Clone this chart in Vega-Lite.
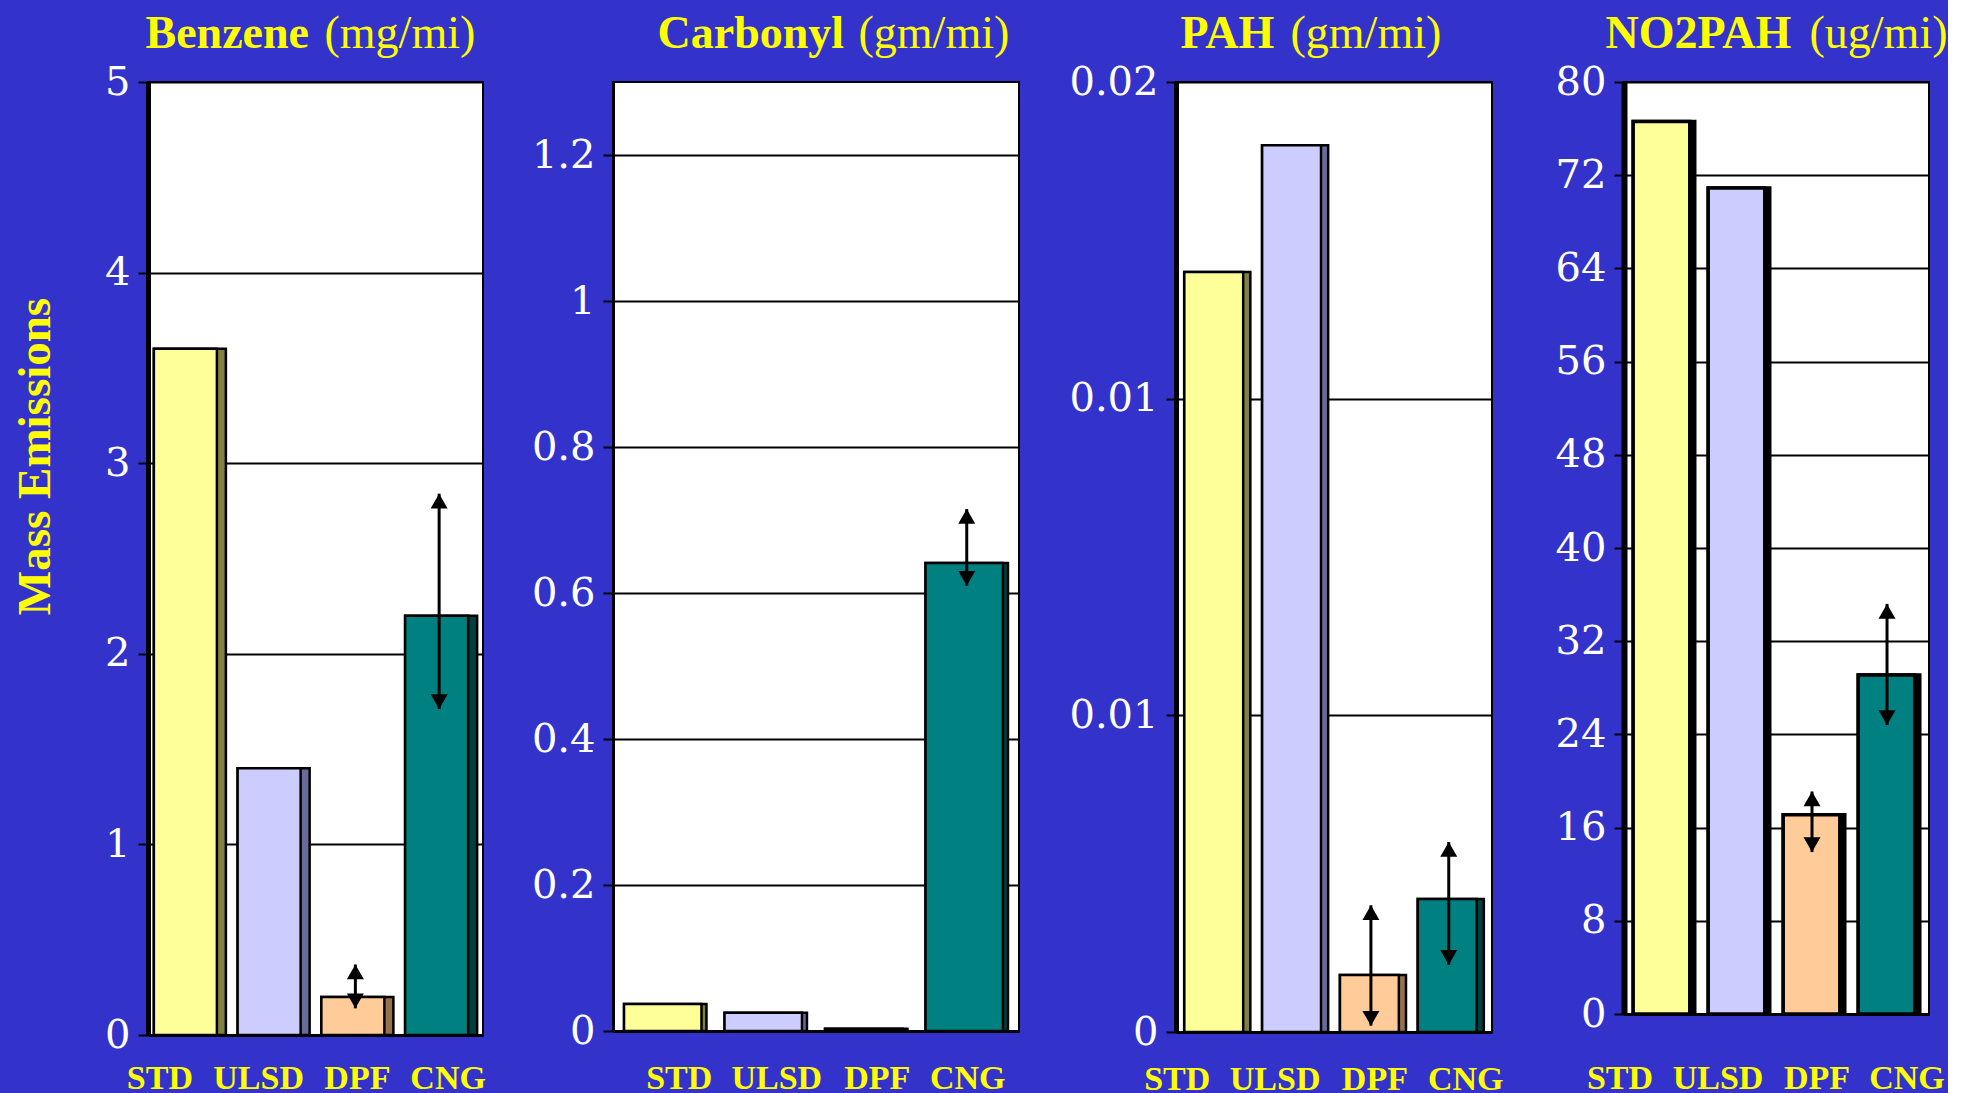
{
  "$schema": "https://vega.github.io/schema/vega-lite/v6.json",
  "background": "#3333CC",
  "padding": {"left": 10, "top": 9, "right": 0, "bottom": 0},
  "spacing": 43,
  "data": {"values": [
    {"panel": "Benzene", "fuel": "STD", "value": 3.6},
    {"panel": "Benzene", "fuel": "ULSD", "value": 1.4},
    {"panel": "Benzene", "fuel": "DPF", "value": 0.2, "lo": 0.14, "hi": 0.37},
    {"panel": "Benzene", "fuel": "CNG", "value": 2.2, "lo": 1.71, "hi": 2.84},
    {"panel": "Carbonyl", "fuel": "STD", "value": 0.037},
    {"panel": "Carbonyl", "fuel": "ULSD", "value": 0.025},
    {"panel": "Carbonyl", "fuel": "DPF", "value": 0.003},
    {"panel": "Carbonyl", "fuel": "CNG", "value": 0.641, "lo": 0.61, "hi": 0.715},
    {"panel": "PAH", "fuel": "STD", "value": 0.012},
    {"panel": "PAH", "fuel": "ULSD", "value": 0.014},
    {"panel": "PAH", "fuel": "DPF", "value": 0.0009, "lo": 0.0001, "hi": 0.002},
    {"panel": "PAH", "fuel": "CNG", "value": 0.0021, "lo": 0.00106, "hi": 0.003},
    {"panel": "NO2PAH", "fuel": "STD", "value": 76.6},
    {"panel": "NO2PAH", "fuel": "ULSD", "value": 70.9},
    {"panel": "NO2PAH", "fuel": "DPF", "value": 17.1, "lo": 13.9, "hi": 19.1},
    {"panel": "NO2PAH", "fuel": "CNG", "value": 29.1, "lo": 24.8, "hi": 35.2}
  ]},
  "config": {
    "view": {"fill": "white", "stroke": "black", "strokeWidth": 2},
    "axis": {"gridColor": "black", "gridOpacity": 1, "gridWidth": 1.8, "tickColor": "black", "domainColor": "black"}
  },
  "hconcat": [
    {
      "width": 335, "height": 953,
      "transform": [{"filter": "datum.panel == 'Benzene'"}],
      "layer": [
        {
          "mark": {"type": "bar", "stroke": "black", "strokeWidth": 2.5, "width": {"band": 1}},
          "encoding": {
            "x": {"field": "fuel", "type": "nominal", "sort": ["STD", "ULSD", "DPF", "CNG"],
              "scale": {"paddingInner": 0.14, "paddingOuter": 0.07},
              "axis": {"orient": "bottom", "title": null, "labelAngle": 0, "ticks": false, "tickSize": 0, "labelPadding": 26, "labelFont": "Liberation Serif", "labelFontWeight": "bold", "labelFontSize": 34, "labelColor": "#FFFF00", "domainWidth": 3, "grid": false,
                "labelOffset": {"condition": [{"test": "datum.value == 'STD'", "value": -30}, {"test": "datum.value == 'ULSD'", "value": -15}, {"test": "datum.value == 'CNG'", "value": 7}], "value": 0}}},
            "y": {"field": "value", "type": "quantitative", "scale": {"domain": [0, 5], "nice": false},
              "axis": {"orient": "left", "values": [0, 1, 2, 3, 4, 5], "format": "d", "grid": true, "tickSize": 10, "tickWidth": 2, "domainWidth": 5, "labelFont": "DejaVu Serif", "labelFontSize": 40, "labelColor": "white", "labelPadding": 8,
                "title": "Mass Emissions", "titleFont": "Liberation Serif", "titleFontSize": 47, "titleFontWeight": "bold", "titleColor": "#FFFF00", "titleAngle": -90, "titleX": -99, "titleY": 374, "titleAlign": "center", "titleBaseline": "alphabetic"}},
            "fill": {"field": "fuel", "type": "nominal", "scale": {"domain": ["STD", "ULSD", "DPF", "CNG"], "range": ["#808040", "#6B6B99", "#99704D", "#004040"]}, "legend": null}
          }
        },
        {
          "mark": {"type": "bar", "stroke": "black", "strokeWidth": 2.5, "width": {"band": 0.875}, "xOffset": -4.5},
          "encoding": {
            "x": {"field": "fuel", "type": "nominal", "sort": ["STD", "ULSD", "DPF", "CNG"],
              "axis": {"orient": "top", "labels": false, "ticks": false, "domain": false, "grid": false, "title": "Benzene", "titleX": -3, "titleY": -35, "titleAlign": "left", "titleBaseline": "alphabetic", "titleFont": "Liberation Serif", "titleFontSize": 46, "titleFontWeight": "bold", "titleColor": "#FFFF00"}},
            "y": {"field": "value", "type": "quantitative", "scale": {"domain": [0, 5], "nice": false},
              "axis": {"orient": "right", "labels": false, "ticks": false, "domain": false, "grid": false, "title": "(mg/mi)", "titleAngle": 0, "titleX": -159, "titleY": -35, "titleAlign": "left", "titleBaseline": "alphabetic", "titleFont": "Liberation Serif", "titleFontSize": 46, "titleFontWeight": "normal", "titleColor": "#FFFF00"}},
            "color": {"field": "fuel", "type": "nominal", "scale": {"domain": ["STD", "ULSD", "DPF", "CNG"], "range": ["#FFFF99", "#CCCCFF", "#FFCC99", "#008080"]}, "legend": null}
          }
        },
        {
          "transform": [{"filter": "isValid(datum.hi)"}],
          "mark": {"type": "rule", "strokeWidth": 3, "color": "black", "xOffset": -2},
          "encoding": {
            "x": {"field": "fuel", "type": "nominal", "sort": ["STD", "ULSD", "DPF", "CNG"], "axis": null},
            "y": {"field": "lo", "type": "quantitative", "scale": {"domain": [0, 5], "nice": false}, "axis": null},
            "y2": {"field": "hi"}
          }
        },
        {
          "transform": [{"filter": "isValid(datum.hi)"}],
          "mark": {"type": "point", "shape": "triangle-up", "size": 289, "filled": true, "color": "black", "opacity": 1, "yOffset": 7.4, "xOffset": -2},
          "encoding": {
            "x": {"field": "fuel", "type": "nominal", "sort": ["STD", "ULSD", "DPF", "CNG"], "axis": null},
            "y": {"field": "hi", "type": "quantitative", "scale": {"domain": [0, 5], "nice": false}, "axis": null}
          }
        },
        {
          "transform": [{"filter": "isValid(datum.hi)"}],
          "mark": {"type": "point", "shape": "triangle-down", "size": 289, "filled": true, "color": "black", "opacity": 1, "yOffset": -7.4, "xOffset": -2},
          "encoding": {
            "x": {"field": "fuel", "type": "nominal", "sort": ["STD", "ULSD", "DPF", "CNG"], "axis": null},
            "y": {"field": "lo", "type": "quantitative", "scale": {"domain": [0, 5], "nice": false}, "axis": null}
          }
        }
      ],
      "resolve": {"axis": {"x": "independent", "y": "independent"}}
    },
    {
      "width": 406, "height": 949,
      "transform": [{"filter": "datum.panel == 'Carbonyl'"}],
      "layer": [
        {
          "mark": {"type": "bar", "stroke": "black", "strokeWidth": 2.5, "width": {"band": 1}},
          "encoding": {
            "x": {"field": "fuel", "type": "nominal", "sort": ["STD", "ULSD", "DPF", "CNG"],
              "scale": {"paddingInner": 0.18, "paddingOuter": 0.11},
              "axis": {"orient": "bottom", "title": null, "labelAngle": 0, "ticks": false, "tickSize": 0, "labelPadding": 30, "labelFont": "Liberation Serif", "labelFontWeight": "bold", "labelFontSize": 34, "labelColor": "#FFFF00", "domainWidth": 3, "grid": false,
                "labelOffset": {"condition": [{"test": "datum.value == 'STD'", "value": 14}, {"test": "datum.value == 'CNG'", "value": 1}], "value": 11}}},
            "y": {"field": "value", "type": "quantitative", "scale": {"domain": [0, 1.3], "nice": false},
              "axis": {"orient": "left", "values": [0, 0.2, 0.4, 0.6, 0.8, 1, 1.2], "format": ".1~f", "grid": true, "tickSize": 10, "tickWidth": 2, "domainWidth": 3, "labelFont": "DejaVu Serif", "labelFontSize": 40, "labelColor": "white", "labelPadding": 8, "title": null}},
            "fill": {"field": "fuel", "type": "nominal", "scale": {"domain": ["STD", "ULSD", "DPF", "CNG"], "range": ["#808040", "#6B6B99", "#99704D", "#004040"]}, "legend": null}
          }
        },
        {
          "mark": {"type": "bar", "stroke": "black", "strokeWidth": 2.5, "width": {"band": 0.94}, "xOffset": -2.5},
          "encoding": {
            "x": {"field": "fuel", "type": "nominal", "sort": ["STD", "ULSD", "DPF", "CNG"],
              "axis": {"orient": "top", "labels": false, "ticks": false, "domain": false, "grid": false, "title": "Carbonyl", "titleX": 44, "titleY": -35, "titleAlign": "left", "titleBaseline": "alphabetic", "titleFont": "Liberation Serif", "titleFontSize": 46, "titleFontWeight": "bold", "titleColor": "#FFFF00"}},
            "y": {"field": "value", "type": "quantitative", "scale": {"domain": [0, 1.3], "nice": false},
              "axis": {"orient": "right", "labels": false, "ticks": false, "domain": false, "grid": false, "title": "(gm/mi)", "titleAngle": 0, "titleX": -161, "titleY": -35, "titleAlign": "left", "titleBaseline": "alphabetic", "titleFont": "Liberation Serif", "titleFontSize": 46, "titleFontWeight": "normal", "titleColor": "#FFFF00"}},
            "color": {"field": "fuel", "type": "nominal", "scale": {"domain": ["STD", "ULSD", "DPF", "CNG"], "range": ["#FFFF99", "#CCCCFF", "#FFCC99", "#008080"]}, "legend": null}
          }
        },
        {
          "transform": [{"filter": "isValid(datum.hi)"}],
          "mark": {"type": "rule", "strokeWidth": 3, "color": "black", "xOffset": 0},
          "encoding": {
            "x": {"field": "fuel", "type": "nominal", "sort": ["STD", "ULSD", "DPF", "CNG"], "axis": null},
            "y": {"field": "lo", "type": "quantitative", "scale": {"domain": [0, 1.3], "nice": false}, "axis": null},
            "y2": {"field": "hi"}
          }
        },
        {
          "transform": [{"filter": "isValid(datum.hi)"}],
          "mark": {"type": "point", "shape": "triangle-up", "size": 289, "filled": true, "color": "black", "opacity": 1, "yOffset": 7.4},
          "encoding": {
            "x": {"field": "fuel", "type": "nominal", "sort": ["STD", "ULSD", "DPF", "CNG"], "axis": null},
            "y": {"field": "hi", "type": "quantitative", "scale": {"domain": [0, 1.3], "nice": false}, "axis": null}
          }
        },
        {
          "transform": [{"filter": "isValid(datum.hi)"}],
          "mark": {"type": "point", "shape": "triangle-down", "size": 289, "filled": true, "color": "black", "opacity": 1, "yOffset": -7.4},
          "encoding": {
            "x": {"field": "fuel", "type": "nominal", "sort": ["STD", "ULSD", "DPF", "CNG"], "axis": null},
            "y": {"field": "lo", "type": "quantitative", "scale": {"domain": [0, 1.3], "nice": false}, "axis": null}
          }
        }
      ],
      "resolve": {"axis": {"x": "independent", "y": "independent"}}
    },
    {
      "width": 316, "height": 950,
      "transform": [{"filter": "datum.panel == 'PAH'"}],
      "layer": [
        {
          "mark": {"type": "bar", "stroke": "black", "strokeWidth": 2.5, "width": {"band": 1}},
          "encoding": {
            "x": {"field": "fuel", "type": "nominal", "sort": ["STD", "ULSD", "DPF", "CNG"],
              "scale": {"paddingInner": 0.15, "paddingOuter": 0.105},
              "axis": {"orient": "bottom", "title": null, "labelAngle": 0, "ticks": false, "tickSize": 0, "labelPadding": 30, "labelFont": "Liberation Serif", "labelFontWeight": "bold", "labelFontSize": 34, "labelColor": "#FFFF00", "domainWidth": 3, "grid": false,
                "labelOffset": {"condition": [{"test": "datum.value == 'STD'", "value": -40}, {"test": "datum.value == 'ULSD'", "value": -20}, {"test": "datum.value == 'CNG'", "value": 15}], "value": 2}}},
            "y": {"field": "value", "type": "quantitative", "scale": {"domain": [0, 0.015], "nice": false},
              "axis": {"orient": "left", "values": [0, 0.005, 0.01, 0.015], "labelExpr": "datum.value == 0 ? '0' : (datum.value < 0.012 ? '0.01' : '0.02')", "grid": true, "tickSize": 10, "tickWidth": 2, "domainWidth": 5, "labelFont": "DejaVu Serif", "labelFontSize": 40, "labelColor": "white", "labelPadding": 8, "title": null, "minExtent": 112}},
            "fill": {"field": "fuel", "type": "nominal", "scale": {"domain": ["STD", "ULSD", "DPF", "CNG"], "range": ["#808040", "#6B6B99", "#99704D", "#004040"]}, "legend": null}
          }
        },
        {
          "mark": {"type": "bar", "stroke": "black", "strokeWidth": 2.5, "width": {"band": 0.89}, "xOffset": -3.5},
          "encoding": {
            "x": {"field": "fuel", "type": "nominal", "sort": ["STD", "ULSD", "DPF", "CNG"],
              "axis": {"orient": "top", "labels": false, "ticks": false, "domain": false, "grid": false, "title": "PAH", "titleX": 4, "titleY": -35, "titleAlign": "left", "titleBaseline": "alphabetic", "titleFont": "Liberation Serif", "titleFontSize": 46, "titleFontWeight": "bold", "titleColor": "#FFFF00"}},
            "y": {"field": "value", "type": "quantitative", "scale": {"domain": [0, 0.015], "nice": false},
              "axis": {"orient": "right", "labels": false, "ticks": false, "domain": false, "grid": false, "title": "(gm/mi)", "titleAngle": 0, "titleX": -202, "titleY": -35, "titleAlign": "left", "titleBaseline": "alphabetic", "titleFont": "Liberation Serif", "titleFontSize": 46, "titleFontWeight": "normal", "titleColor": "#FFFF00"}},
            "color": {"field": "fuel", "type": "nominal", "scale": {"domain": ["STD", "ULSD", "DPF", "CNG"], "range": ["#FFFF99", "#CCCCFF", "#FFCC99", "#008080"]}, "legend": null}
          }
        },
        {
          "transform": [{"filter": "isValid(datum.hi)"}],
          "mark": {"type": "rule", "strokeWidth": 3, "color": "black", "xOffset": -2},
          "encoding": {
            "x": {"field": "fuel", "type": "nominal", "sort": ["STD", "ULSD", "DPF", "CNG"], "axis": null},
            "y": {"field": "lo", "type": "quantitative", "scale": {"domain": [0, 0.015], "nice": false}, "axis": null},
            "y2": {"field": "hi"}
          }
        },
        {
          "transform": [{"filter": "isValid(datum.hi)"}],
          "mark": {"type": "point", "shape": "triangle-up", "size": 289, "filled": true, "color": "black", "opacity": 1, "yOffset": 7.4, "xOffset": -2},
          "encoding": {
            "x": {"field": "fuel", "type": "nominal", "sort": ["STD", "ULSD", "DPF", "CNG"], "axis": null},
            "y": {"field": "hi", "type": "quantitative", "scale": {"domain": [0, 0.015], "nice": false}, "axis": null}
          }
        },
        {
          "transform": [{"filter": "isValid(datum.hi)"}],
          "mark": {"type": "point", "shape": "triangle-down", "size": 289, "filled": true, "color": "black", "opacity": 1, "yOffset": -7.4, "xOffset": -2},
          "encoding": {
            "x": {"field": "fuel", "type": "nominal", "sort": ["STD", "ULSD", "DPF", "CNG"], "axis": null},
            "y": {"field": "lo", "type": "quantitative", "scale": {"domain": [0, 0.015], "nice": false}, "axis": null}
          }
        }
      ],
      "resolve": {"axis": {"x": "independent", "y": "independent"}}
    },
    {
      "width": 305, "height": 932,
      "transform": [{"filter": "datum.panel == 'NO2PAH'"}],
      "layer": [
        {
          "mark": {"type": "bar", "stroke": "black", "strokeWidth": 3.5, "width": {"band": 1}, "fill": "black"},
          "encoding": {
            "x": {"field": "fuel", "type": "nominal", "sort": ["STD", "ULSD", "DPF", "CNG"],
              "scale": {"paddingInner": 0.18, "paddingOuter": 0.123},
              "axis": {"orient": "bottom", "title": null, "labelAngle": 0, "ticks": false, "tickSize": 0, "labelPadding": 47, "labelFont": "Liberation Serif", "labelFontWeight": "bold", "labelFontSize": 34, "labelColor": "#FFFF00", "domainWidth": 3, "grid": false,
                "labelOffset": {"condition": [{"test": "datum.value == 'STD'", "value": -44}, {"test": "datum.value == 'ULSD'", "value": -21}, {"test": "datum.value == 'CNG'", "value": 18}], "value": 3}}},
            "y": {"field": "value", "type": "quantitative", "scale": {"domain": [0, 80], "nice": false},
              "axis": {"orient": "left", "values": [0, 8, 16, 24, 32, 40, 48, 56, 64, 72, 80], "format": "d", "grid": true, "tickSize": 10, "tickWidth": 2, "domainWidth": 6, "labelFont": "DejaVu Serif", "labelFontSize": 40, "labelColor": "white", "labelPadding": 8, "title": null, "minExtent": 75}}
          }
        },
        {
          "mark": {"type": "bar", "stroke": "black", "strokeWidth": 3.5, "width": {"band": 0.92}, "xOffset": -2.5},
          "encoding": {
            "x": {"field": "fuel", "type": "nominal", "sort": ["STD", "ULSD", "DPF", "CNG"],
              "axis": {"orient": "top", "labels": false, "ticks": false, "domain": false, "grid": false, "title": "NO2PAH", "titleX": -19, "titleY": -35, "titleAlign": "left", "titleBaseline": "alphabetic", "titleFont": "Liberation Serif", "titleFontSize": 46, "titleFontWeight": "bold", "titleColor": "#FFFF00"}},
            "y": {"field": "value", "type": "quantitative", "scale": {"domain": [0, 80], "nice": false},
              "axis": {"orient": "right", "labels": false, "ticks": false, "domain": false, "grid": false, "title": "(ug/mi)", "titleAngle": 0, "titleX": -120, "titleY": -35, "titleAlign": "left", "titleBaseline": "alphabetic", "titleFont": "Liberation Serif", "titleFontSize": 46, "titleFontWeight": "normal", "titleColor": "#FFFF00"}},
            "color": {"field": "fuel", "type": "nominal", "scale": {"domain": ["STD", "ULSD", "DPF", "CNG"], "range": ["#FFFF99", "#CCCCFF", "#FFCC99", "#008080"]}, "legend": null}
          }
        },
        {
          "transform": [{"filter": "isValid(datum.hi)"}],
          "mark": {"type": "rule", "strokeWidth": 3, "color": "black", "xOffset": -2},
          "encoding": {
            "x": {"field": "fuel", "type": "nominal", "sort": ["STD", "ULSD", "DPF", "CNG"], "axis": null},
            "y": {"field": "lo", "type": "quantitative", "scale": {"domain": [0, 80], "nice": false}, "axis": null},
            "y2": {"field": "hi"}
          }
        },
        {
          "transform": [{"filter": "isValid(datum.hi)"}],
          "mark": {"type": "point", "shape": "triangle-up", "size": 289, "filled": true, "color": "black", "opacity": 1, "yOffset": 7.4, "xOffset": -2},
          "encoding": {
            "x": {"field": "fuel", "type": "nominal", "sort": ["STD", "ULSD", "DPF", "CNG"], "axis": null},
            "y": {"field": "hi", "type": "quantitative", "scale": {"domain": [0, 80], "nice": false}, "axis": null}
          }
        },
        {
          "transform": [{"filter": "isValid(datum.hi)"}],
          "mark": {"type": "point", "shape": "triangle-down", "size": 289, "filled": true, "color": "black", "opacity": 1, "yOffset": -7.4, "xOffset": -2},
          "encoding": {
            "x": {"field": "fuel", "type": "nominal", "sort": ["STD", "ULSD", "DPF", "CNG"], "axis": null},
            "y": {"field": "lo", "type": "quantitative", "scale": {"domain": [0, 80], "nice": false}, "axis": null}
          }
        }
      ],
      "resolve": {"axis": {"x": "independent", "y": "independent"}}
    }
  ]
}
